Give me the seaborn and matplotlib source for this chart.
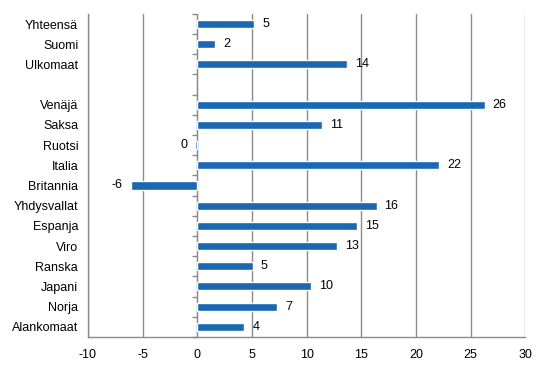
import seaborn as sns
import matplotlib.pyplot as plt
import numpy as np
import pandas as pd

categories = ["Yhteensä", "Suomi", "Ulkomaat", "", "Venäjä", "Saksa", "Ruotsi",
              "Italia", "Britannia", "Yhdysvallat", "Espanja", "Viro", "Ranska",
              "Japani", "Norja", "Alankomaat"]
values = [5.2, 1.65, 13.7, np.nan, 26.3, 11.4, -0.2,
          22.1, -6.1, 16.4, 14.6, 12.8, 5.1,
          10.4, 7.3, 4.3]
xticks = [-10, -5, 0, 5, 10, 15, 20, 25, 30]

df = pd.DataFrame({"cat": categories, "val": values})

sns.set_style("white")
plt.rcParams["font.family"] = ["Liberation Sans", "DejaVu Sans"]
plt.rcParams["axes.unicode_minus"] = False
plt.rcParams["text.color"] = "black"
plt.rcParams["xtick.color"] = "black"
plt.rcParams["ytick.color"] = "black"

fig = plt.figure(figsize=(5.46, 3.76), dpi=100)
ax = fig.add_axes([0.161, 0.104, 0.801, 0.859])

sns.barplot(data=df, x="val", y="cat", order=categories, orient="h",
            color="#1b68b2", saturation=1, width=0.4, ax=ax, errorbar=None)

ax.set_xlim(-10, 30)
ax.set_xticks(xticks)
ax.set_ylim(len(categories) - 0.5, -0.5)
ax.set_xlabel("")
ax.set_ylabel("")

grey = "#8a8a8a"
ax.grid(axis="x", color=grey, linewidth=1)
ax.grid(axis="y", visible=False)
ax.set_axisbelow(True)
for side in ["top", "right"]:
    ax.spines[side].set_visible(False)
for side in ["left", "bottom"]:
    ax.spines[side].set_color(grey)
    ax.spines[side].set_linewidth(1)

ax.tick_params(axis="y", length=0, pad=7, labelsize=9, labelcolor="black")
ax.tick_params(axis="x", direction="out", length=3, width=1, color=grey, pad=6,
               labelsize=9, labelcolor="black")

# tick marks along the zero line between categories
sec = ax.secondary_yaxis(0.25)
sec.set_yticks(np.arange(-0.5, len(categories), 1.0))
sec.set_yticklabels([])
sec.spines["left"].set_color(grey)
sec.tick_params(axis="y", which="both", direction="out", length=3.5, width=1,
                color=grey, left=True, right=False)

for i, v in enumerate(values):
    if np.isnan(v):
        continue
    lab = str(int(round(v)))
    if v > 0:
        ax.annotate(lab, (v, i), xytext=(8, 0), textcoords="offset pixels",
                    ha="left", va="center", fontsize=9, color="black")
    else:
        ax.annotate(lab, (min(v, -0.2), i), xytext=(-8, 0), textcoords="offset pixels",
                    ha="right", va="center", fontsize=9, color="black")

fig.savefig("out.png", dpi=100)
